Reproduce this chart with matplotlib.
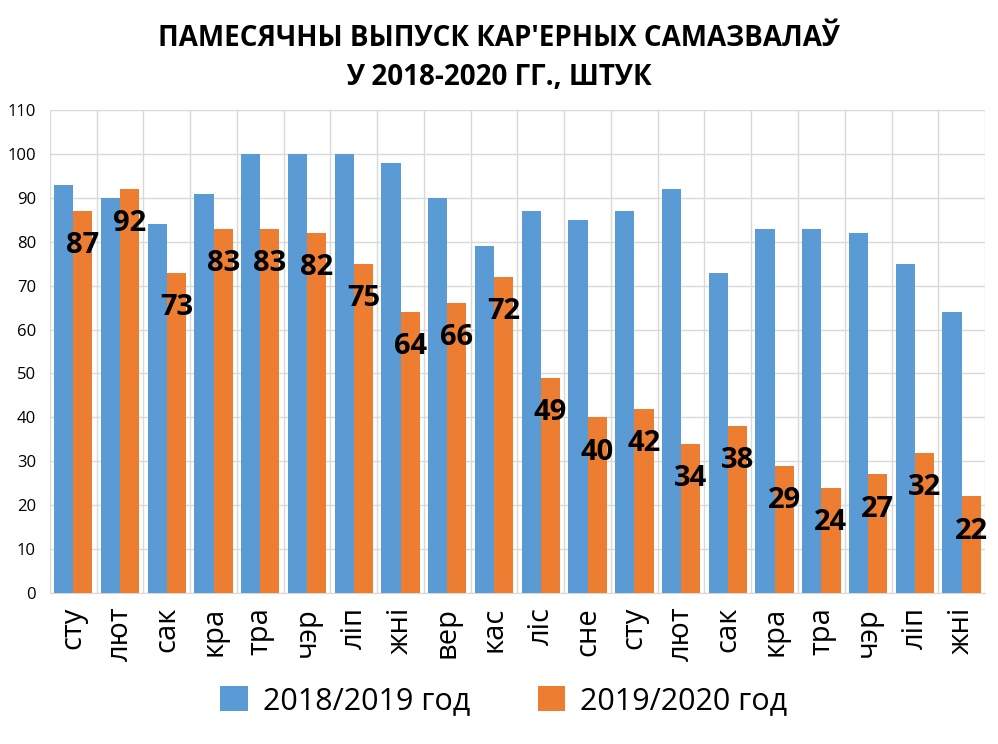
import numpy as np
import matplotlib.pyplot as plt

months = ['сту', 'лют', 'сак', 'кра', 'тра', 'чэр', 'ліп', 'жні', 'вер', 'кас',
          'ліс', 'сне', 'сту', 'лют', 'сак', 'кра', 'тра', 'чэр', 'ліп', 'жні']
y2018_19 = [93, 90, 84, 91, 100, 100, 100, 98, 90, 79, 87, 85, 87, 92, 73, 83, 83, 82, 75, 64]
y2019_20 = [87, 92, 73, 83, 83, 82, 75, 64, 66, 72, 49, 40, 42, 34, 38, 29, 24, 27, 32, 22]

plt.rcParams['font.family'] = ['Open Sans', 'DejaVu Sans']

fig = plt.figure(figsize=(9.98, 7.44), dpi=100)
ax = fig.add_axes([0.05, 0.203, 0.937, 0.649])

x = np.arange(len(months))
w = 0.41
ax.bar(x - w / 2, y2018_19, w, color='#5B9BD5', label='2018/2019 год', zorder=3)
ax.bar(x + w / 2, y2019_20, w, color='#ED7D31', label='2019/2020 год', zorder=3)

for xi, v in zip(x, y2019_20):
    ax.annotate(str(v), (xi + w / 2, v), xytext=(0, -25), textcoords='offset points',
                ha='center', va='center', fontsize=21, fontweight='bold', color='black', zorder=4)

ax.set_xlim(-0.5, len(months) - 0.5)
ax.set_ylim(0, 110)
ax.set_yticks(range(0, 111, 10))
ax.set_xticks(x)
ax.set_xticklabels(months, rotation=90, fontsize=21)
ax.tick_params(axis='x', length=0, pad=10)
ax.tick_params(axis='y', length=0, labelsize=12, pad=10)

ax.grid(axis='y', color='#D9D9D9', lw=1, zorder=0)
ax.set_xticks(np.arange(-0.5, len(months), 1), minor=True)
ax.grid(axis='x', which='minor', color='#D9D9D9', lw=1, zorder=0)
ax.tick_params(axis='x', which='minor', length=0)
for s in ['top', 'right', 'left']:
    ax.spines[s].set_visible(False)
ax.spines['bottom'].set_color('#D9D9D9')

fig.text(0.5, 0.922, "ПАМЕСЯЧНЫ ВЫПУСК КАР'ЕРНЫХ САМАЗВАЛАЎ\nУ 2018-2020 ГГ., ШТУК",
         ha='center', va='center', fontsize=20, fontweight='bold', linespacing=1.45)

fig.legend(loc='center', bbox_to_anchor=(0.505, 0.058), ncol=2, frameon=False,
           fontsize=22, handlelength=0.9, handleheight=0.9, columnspacing=2.2, handletextpad=0.5)

fig.savefig('out.png', dpi=100)
